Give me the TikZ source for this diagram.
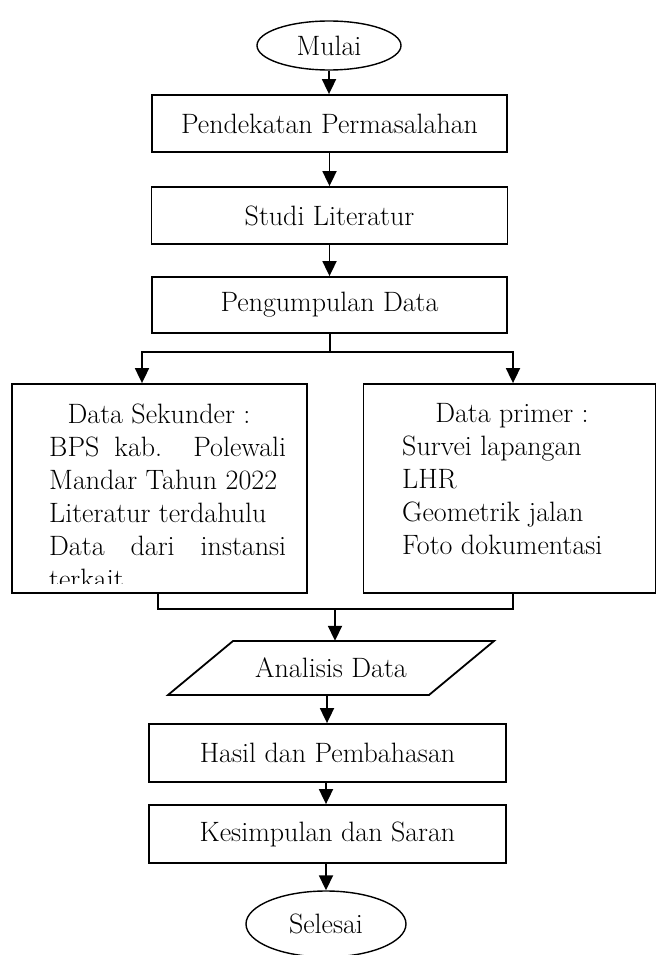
\documentclass[tikz,border=0pt]{standalone}
\usetikzlibrary{arrows.meta,shapes.geometric,calc}
\begin{document}
\begin{tikzpicture}[x=1pt,y=-1pt,
  font=\fontsize{28}{33}\selectfont,
  box/.style={draw, rectangle, line width=1.8pt, inner sep=0pt},
  oval/.style={draw, ellipse, line width=1.4pt, inner sep=0pt},
  txt/.style={inner sep=0pt},
  conn/.style={line width=1.8pt},
  arr/.style={line width=1.8pt, -{Triangle[length=15pt,width=14pt]}}]
\useasboundingbox (0,0) rectangle (656,955);

% main nodes
\node[oval, minimum width=144pt, minimum height=49pt] (mulai) at (329,45.5) {Mulai};
\node[box, minimum width=355pt, minimum height=57pt] (pend) at (329.5,123.5) {Pendekatan Permasalahan};
\node[box, minimum width=356pt, minimum height=57pt] (studi) at (329.5,215.5) {Studi Literatur};
\node[box, minimum width=355pt, minimum height=56pt] (peng) at (329.5,305) {Pengumpulan Data};
\node[box, minimum width=295pt, minimum height=209pt] (sek) at (159.5,488.5) {};
\node[box, minimum width=292pt, minimum height=209pt] (prim) at (509.5,488.5) {};
\node[txt, minimum width=197pt, minimum height=54pt] (ana) at (331,668) {Analisis Data};
\draw[line width=1.8pt] ($(ana.center)+(-98,-27)$) -- ($(ana.center)+(163,-27)$)
  -- ($(ana.center)+(98,27)$) -- ($(ana.center)+(-163,27)$) -- cycle;
\node[box, minimum width=357pt, minimum height=58pt] (hasil) at (327.5,753) {Hasil dan Pembahasan};
\node[box, minimum width=357pt, minimum height=58pt] (kesim) at (327.5,834) {Kesimpulan dan Saran};
\node[oval, minimum width=160pt, minimum height=66pt] (selesai) at (326,924) {Selesai};

% left box text
\node[txt, anchor=base] (s1) at (159,423) {Data Sekunder :};
\node[txt, anchor=base west] (s2) at (49,456) {\makebox[237pt][s]{BPS kab. Polewali}};
\node[txt, anchor=base west] (s3) at (49,489) {Mandar Tahun 2022};
\node[txt, anchor=base west] (s4) at (49,522) {Literatur terdahulu};
\node[txt, anchor=base west] (s5) at (49,555) {\makebox[237pt][s]{Data dari instansi}};
\begin{scope}
  \clip (12,384) rectangle (307,583);
  \node[txt, anchor=base west] (s6) at (49,588) {terkait};
\end{scope}

% right box text
\node[txt, anchor=base] (p1) at (512,422) {Data primer :};
\node[txt, anchor=base west] (p2) at (402,455) {Survei lapangan};
\node[txt, anchor=base west] (p3) at (402,488) {LHR};
\node[txt, anchor=base west] (p4) at (402,521) {Geometrik jalan};
\node[txt, anchor=base west] (p5) at (402,554) {Foto dokumentasi};

% connectors
\draw[arr] (mulai.south) -- (mulai.south |- pend.north);
\draw[arr] (pend.south) -- (pend.south |- studi.north);
\draw[arr] (studi.south) -- (studi.south |- peng.north);
\coordinate (split) at (330,352);
\draw[arr] (split |- peng.south) -- (split) -| ([xshift=-17.5pt]sek.north);
\draw[arr] (split) -| ([xshift=3.5pt]prim.north);
\coordinate (merge) at (335,609);
\draw[conn] ([xshift=-1.5pt]sek.south) |- (merge) -| ([xshift=3.5pt]prim.south);
\draw[arr] (merge) -- (merge |- ana.north);
\draw[arr] ([xshift=-4pt]ana.south) -- ([xshift=-4pt]ana.south |- hasil.north);
\draw[arr] ([xshift=-1.5pt]hasil.south) -- ([xshift=-1.5pt]hasil.south |- kesim.north);
\draw[arr] (kesim.south -| selesai.north) -- (selesai.north);
\end{tikzpicture}
\end{document}
